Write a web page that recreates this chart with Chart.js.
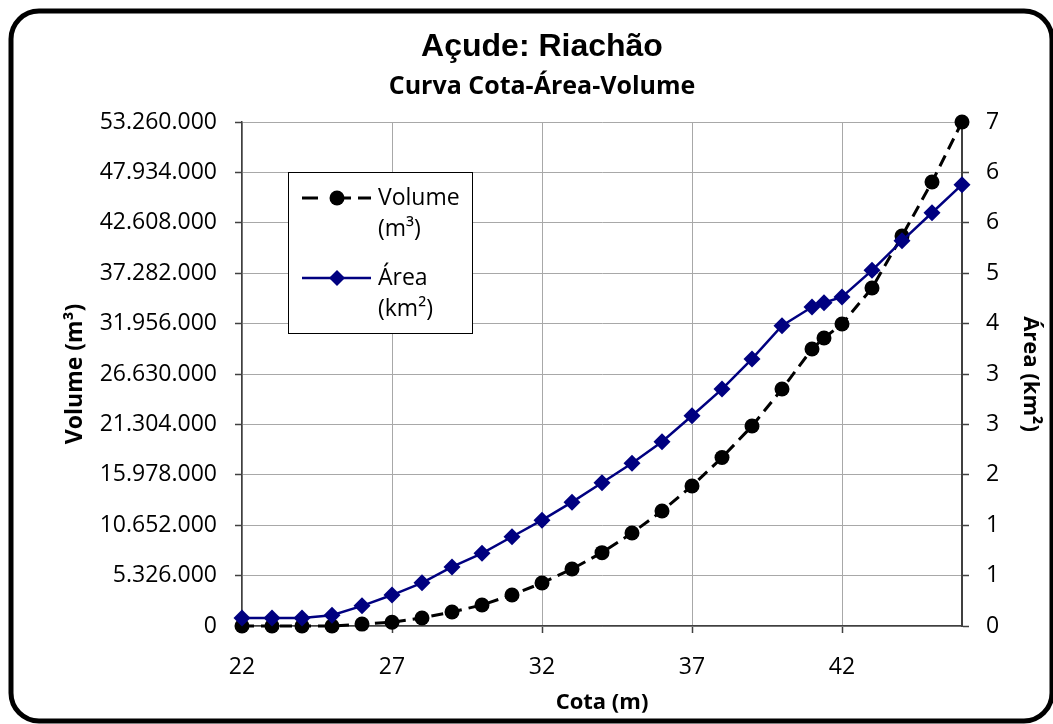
<!DOCTYPE html>
<html><head><meta charset="utf-8">
<script src="https://cdn.jsdelivr.net/npm/chart.js@4.4.1/dist/chart.umd.min.js"></script>
<style>html,body{margin:0;padding:0;background:#fff;overflow:hidden}canvas{display:block}</style>
</head><body>
<canvas id="c" width="1053" height="724"></canvas>
<script>
// ---- data ----
const cota = [22,23,24,25,26,27,28,29,30,31,32,33,34,35,36,37,38,39,40,41,41.4,42,43,44,45,46];
const volume = [0,0,0,0,200000,400000,850000,1480000,2220000,3280000,4540000,6020000,7750000,9830000,12150000,14800000,17800000,21130000,25040000,29270000,30430000,31910000,35720000,41210000,46920000,53260000];
const area = [0.11,0.11,0.11,0.15,0.28,0.43,0.60,0.82,1.01,1.24,1.47,1.72,1.99,2.26,2.56,2.92,3.29,3.71,4.17,4.43,4.49,4.57,4.94,5.35,5.74,6.13];
const cotaTicks = [22,27,32,37,42];
const volumeTicks = [0,5326000,10652000,15978000,21304000,26630000,31956000,37282000,42608000,47934000,53260000];
const areaTicks = [0,0.7,1.4,2.1,2.8,3.5,4.2,4.9,5.6,6.3,7];
const areaTickLabels = ['0','1','1','2','3','3','4','5','6','6','7'];
const seriesLabels = [['Volume','(m³)'],['Área','(km²)']];
const titleText = 'Açude: Riachão';
const subtitleText = 'Curva Cota-Área-Volume';

const fmt = v => String(v).replace(/\B(?=(\d{3})+(?!\d))/g, '.');
const FONT = '"Open Sans", "DejaVu Sans", sans-serif';
const DARK = '#404040';
const GRID = '#a8a8a8';
const NAVY = '#000080';
const DASH = [12, 7];

const frame = {
  id: 'frame',
  beforeDraw(chart) {
    const c = chart.ctx;
    c.save();
    c.fillStyle = '#fff';
    c.fillRect(0, 0, chart.width, chart.height);
    c.beginPath();
    c.roundRect(11, 11, 1041, 710, 28);
    c.lineWidth = 5;
    c.strokeStyle = '#000';
    c.stroke();
    c.restore();
  }
};

const legendBox = {
  id: 'legendBox',
  afterDraw(chart) {
    const c = chart.ctx;
    c.save();
    c.fillStyle = '#fff';
    c.fillRect(289, 173, 184, 160);
    c.lineWidth = 1;
    c.strokeStyle = '#000';
    c.strokeRect(288.5, 172.5, 184, 161);
    // Volume entry
    c.strokeStyle = '#000';
    c.lineWidth = 3;
    c.beginPath();
    [[302,318],[343,351],[358,371]].forEach(s => { c.moveTo(s[0],198); c.lineTo(s[1],198); });
    c.stroke();
    c.fillStyle = '#000';
    c.beginPath(); c.arc(337, 198, 7.5, 0, Math.PI*2); c.fill();
    // Area entry
    c.strokeStyle = NAVY; c.lineWidth = 2.5;
    c.beginPath(); c.moveTo(302, 278); c.lineTo(371, 278); c.stroke();
    c.fillStyle = NAVY;
    c.beginPath(); c.moveTo(337,270); c.lineTo(345,278); c.lineTo(337,286); c.lineTo(329,278); c.closePath(); c.fill();
    // texts
    c.fillStyle = '#000';
    c.font = '23px ' + FONT;
    c.textBaseline = 'middle';
    c.textAlign = 'left';
    c.fillText(seriesLabels[0][0], 378, 198);
    c.fillText(seriesLabels[0][1], 378, 229);
    c.fillText(seriesLabels[1][0], 378, 278);
    c.fillText(seriesLabels[1][1], 378, 309);
    c.restore();
  }
};

new Chart(document.getElementById('c'), {
  type: 'line',
  data: {
    datasets: [
      {
        label: 'Volume (m³)',
        data: cota.map((x, i) => ({x, y: volume[i]})),
        yAxisID: 'y',
        borderColor: '#000',
        backgroundColor: '#000',
        borderWidth: 3,
        borderDash: DASH,
        pointStyle: 'circle',
        pointRadius: 7.5,
        pointBorderWidth: 0,
        pointHoverRadius: 7.5,
        tension: 0,
        clip: false,
        order: 2
      },
      {
        label: 'Área (km²)',
        data: cota.map((x, i) => ({x, y: area[i]})),
        yAxisID: 'y1',
        borderColor: NAVY,
        backgroundColor: NAVY,
        borderWidth: 2.5,
        pointStyle: 'rectRot',
        pointRadius: 8.5,
        pointBorderWidth: 0,
        pointHoverRadius: 8.5,
        tension: 0,
        clip: false,
        order: 1
      }
    ]
  },
  options: {
    responsive: false,
    animation: false,
    events: [],
    layout: { padding: { left: 31, right: 0, top: 0, bottom: 0 } },
    plugins: {
      legend: { display: false },
      tooltip: { enabled: false },
      title: {
        display: true, text: titleText, color: '#000',
        font: { family: '"Liberation Sans", Arial, sans-serif', size: 32, weight: 'bold', lineHeight: 1.2 },
        padding: { top: 27.8, bottom: 0 }
      },
      subtitle: {
        display: true, text: subtitleText, color: '#000',
        font: { family: FONT, size: 25, weight: 'bold', lineHeight: 1.2 },
        padding: { top: 5.8, bottom: 20 }
      }
    },
    scales: {
      x: {
        type: 'linear', min: 22, max: 46,
        afterBuildTicks: s => { s.ticks = cotaTicks.map(v => ({value: v})); },
        afterFit: s => { s.height = 98; },
        ticks: { color: '#000', font: { family: FONT, size: 23 }, padding: 21, maxRotation: 0, autoSkip: false },
        grid: { color: GRID, lineWidth: 1, tickLength: 7, tickColor: DARK, tickWidth: 1.5 },
        border: { color: DARK, width: 1.5 },
        title: { display: true, text: 'Cota (m)', color: '#000', font: { family: FONT, size: 22, weight: 'bold', lineHeight: 1.2 }, padding: { top: 0, bottom: 7.8 } }
      },
      y: {
        type: 'linear', position: 'left', min: 0, max: 53260000,
        afterBuildTicks: s => { s.ticks = volumeTicks.map(v => ({value: v})); },
        afterFit: s => { s.width = 211; },
        ticks: { color: '#000', font: { family: FONT, size: 23 }, padding: 18, autoSkip: false, callback: v => fmt(v) },
        grid: { color: GRID, lineWidth: 1, tickLength: 7, tickColor: DARK, tickWidth: 1.5 },
        border: { color: DARK, width: 1.5 },
        title: { display: true, text: 'Volume (m³)', color: '#000', font: { family: FONT, size: 23, weight: 'bold', lineHeight: 1.2 }, padding: { top: 30.2, bottom: 0 } }
      },
      y1: {
        type: 'linear', position: 'right', min: 0, max: 7,
        afterBuildTicks: s => { s.ticks = areaTicks.map(v => ({value: v})); },
        afterFit: s => { s.width = 91; },
        ticks: { color: '#000', font: { family: FONT, size: 23 }, padding: 17, autoSkip: false, callback: (v, i) => areaTickLabels[i] },
        grid: { drawOnChartArea: false, color: DARK, tickLength: 7, tickColor: DARK, tickWidth: 1.5 },
        border: { color: DARK, width: 2 },
        title: { display: true, text: 'Área (km²)', color: '#000', font: { family: FONT, size: 22, weight: 'bold', lineHeight: 1.2 }, padding: { top: 9.8, bottom: 0 } }
      }
    }
  },
  plugins: [frame, legendBox]
});
</script>
</body></html>
